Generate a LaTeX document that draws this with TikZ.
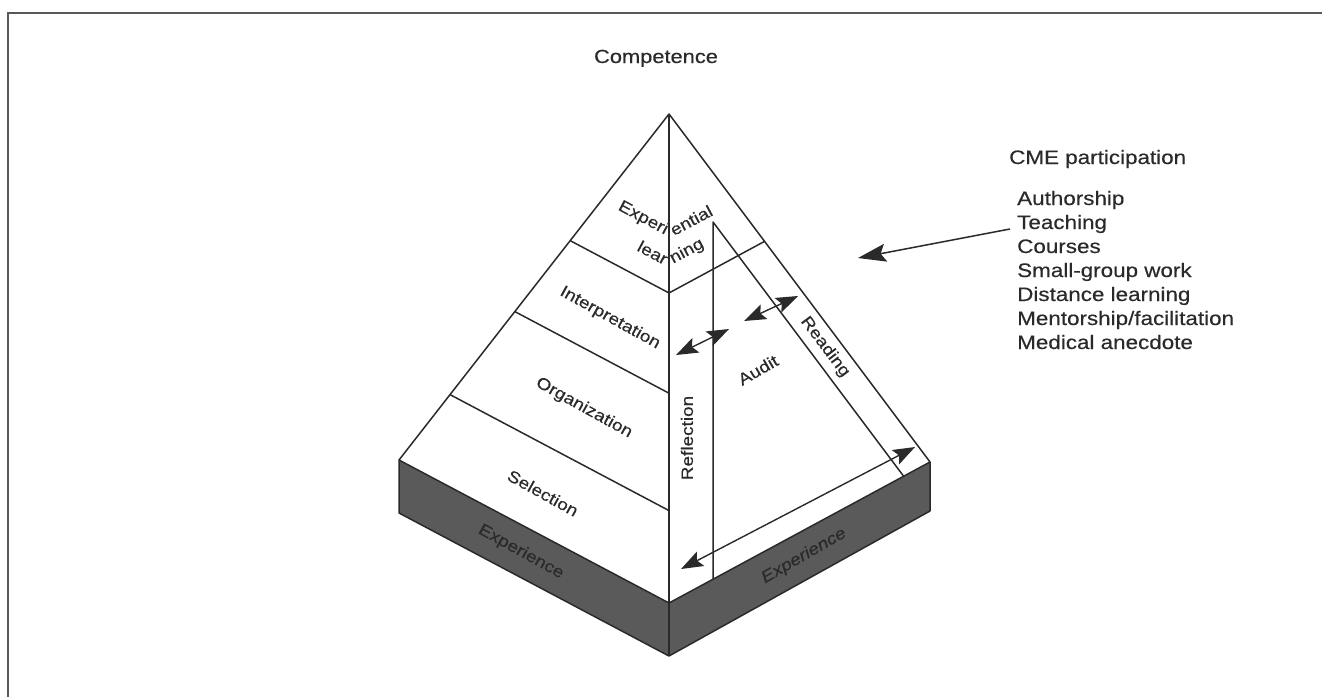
\documentclass[tikz,border=0pt]{standalone}
\usepackage{fontspec}
\setmainfont{Liberation Sans}[FakeStretch=1.15,FakeBold=0.4]
\usetikzlibrary{arrows.meta,calc}
\definecolor{ink}{HTML}{2A2A2A}
\definecolor{basegray}{HTML}{5A5A5A}
\begin{document}
\begin{tikzpicture}[x=1pt,y=-1pt,
  edge/.style={draw=ink, line width=1.5pt, line join=round},
  lab/.style={font=\fontsize{16.5}{18}\selectfont, text=ink, inner sep=0pt},
  listtxt/.style={font=\fontsize{19.5}{24}\selectfont, text=ink, inner sep=0pt, anchor=base west},
  dbl/.style={draw=ink, line width=1.4pt, {Stealth[length=22pt,width=16pt,inset=4pt]}-{Stealth[length=22pt,width=16pt,inset=4pt]}},
  sgl/.style={draw=ink, line width=1.5pt, -{Stealth[length=28pt,width=18pt,inset=5pt]}},
]
\useasboundingbox (0,0) rectangle (1322,697);
% frame
\draw[line width=2.5pt, draw=gray!70!black] (8,697) -- (8,13) -- (1322,13);

% main points
\coordinate (A) at (669,114);
\coordinate (L) at (399,460);
\coordinate (F) at (669,603);
\coordinate (R) at (930,462);
\coordinate (Lb) at (399,513);
\coordinate (Fb) at (669,656);
\coordinate (Rb) at (930,511);

% dark base
\fill[basegray] (L) -- (F) -- (Fb) -- (Lb) -- cycle;
\fill[basegray] (F) -- (R) -- (Rb) -- (Fb) -- cycle;
\draw[edge] (L) -- (Lb) -- (Fb) -- (Rb) -- (R);
\draw[edge] (F) -- (Fb);

% pyramid
\draw[edge] (L) -- (A) -- (R) -- (F) -- cycle;
\draw[edge] (A) -- (F);

% bands
\draw[edge] ($(A)!0.366!(L)$) -- ($(A)!0.366!(F)$) -- ($(A)!0.366!(R)$);
\draw[edge] ($(A)!0.571!(L)$) -- ($(A)!0.571!(F)$);
\draw[edge] ($(A)!0.811!(L)$) -- ($(A)!0.811!(F)$);

% inner structure on right face
\coordinate (T) at (713,222);
\coordinate (Tv) at ($(F)!0.1686!(R)$);
\coordinate (Td) at ($(F)!0.8991!(R)$);
\draw[edge] (Tv) -- (T) -- (Td);

% arrows
\coordinate (a1s) at (676,355); \coordinate (a1e) at (729,329);
\coordinate (a2s) at (744,321); \coordinate (a2e) at (798,296);
\coordinate (a3s) at (681,569); \coordinate (a3e) at (915,447);
\coordinate (c1) at (1010,229); \coordinate (c2) at (858,258);
\draw[dbl] (a1s) -- (a1e);
\draw[dbl] (a2s) -- (a2e);
\draw[dbl] (a3s) -- (a3e);
\draw[sgl] (c1) -- (c2);

% labels
\node[font=\fontsize{19}{22}\selectfont, text=ink, anchor=base] (comp) at (656,63) {Competence};
\node[lab, rotate=-28, anchor=east] (exA) at (667,231) {Experi};
\node[lab, rotate=28, anchor=west] (exB) at (671,231) {ential};
\node[lab, rotate=-28, anchor=east] (leA) at (667,260) {lear};
\node[lab, rotate=28, anchor=west] (leB) at (671,260) {ning};
\node[lab, rotate=-29] (interp) at (610,318) {Interpretation};
\node[lab, rotate=-29] (org) at (584,408) {Organization};
\node[lab, rotate=-29] (sel) at (543,493) {Selection};
\node[lab, rotate=-29] (expL) at (521,552) {Experience};
\node[lab, rotate=30, font=\fontsize{16.5}{18}\selectfont\itshape] (expR) at (804,556) {Experience};
\node[lab, rotate=90] (refl) at (687,438) {Reflection};
\node[lab, rotate=30] (audit) at (758,370) {Audit};
\node[lab, rotate=-53] (read) at (825,347) {Reading};

% right list
\node[listtxt] (cme) at (1009,164) {CME participation};
\node[listtxt] (l1) at (1017,205) {Authorship};
\node[listtxt] (l2) at (1017,229) {Teaching};
\node[listtxt] (l3) at (1017,253) {Courses};
\node[listtxt] (l4) at (1017,277) {Small-group work};
\node[listtxt] (l5) at (1017,301) {Distance learning};
\node[listtxt] (l6) at (1017,325) {Mentorship/facilitation};
\node[listtxt] (l7) at (1017,349) {Medical anecdote};
\end{tikzpicture}
\end{document}
